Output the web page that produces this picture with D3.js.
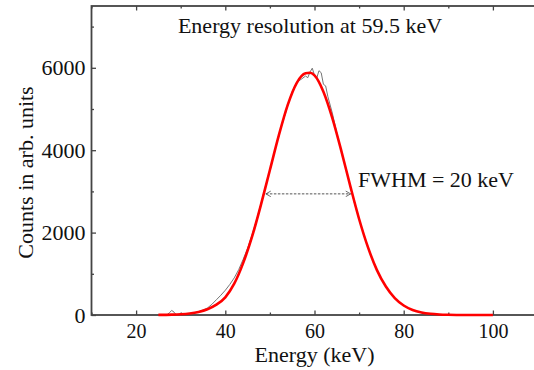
<!DOCTYPE html>
<html>
<head>
<meta charset="utf-8">
<script src="https://cdn.jsdelivr.net/npm/d3@7"></script>
<style>
  html, body { margin: 0; padding: 0; background: #fff; }
  svg text { font-family: "Liberation Serif", "Times New Roman", serif; fill: #111; }
</style>
</head>
<body>
<div id="chart"></div>
<script>
// measured spectrum (gray) : energy in keV, counts
const dataEnergy = [26, 27, 27.5, 28, 28.5, 29, 30, 31, 32, 33, 34, 35, 36, 37, 38, 39, 40, 41, 42, 43, 44, 45,
  46, 47, 48, 49, 50, 51, 52, 53, 54, 55, 56, 57, 58, 58.5, 59, 59.5, 60, 60.5, 61, 61.5, 62, 62.5, 63, 64,
  65, 66, 67, 68, 69, 70, 71, 72, 73, 74, 75, 76, 77, 78, 79, 80, 81, 82, 83, 84, 85, 86];
const dataCounts = [0, 10, 60, 110, 70, 5, 10, 20, 35, 50, 80, 120, 170, 260, 370, 480, 600, 740, 900, 1100, 1350, 1620,
  1950, 2300, 2700, 3120, 3520, 3950, 4380, 4720, 5080, 5420, 5650, 5720, 5800, 5760, 5900, 5990, 5820, 5750, 5930, 5880, 5600, 5560, 5300, 4900,
  4420, 3980, 3560, 3130, 2700, 2330, 1980, 1650, 1350, 1090, 870, 680, 530, 400, 300, 225, 165, 120, 85, 55, 30, 15];

// fitted curve (red)
const fitEnergy = [25, 28, 30, 32, 34, 36, 38, 40, 42, 44, 46, 48, 50, 52, 54, 56, 58, 59, 60, 62, 64, 66, 68, 70,
  72, 74, 76, 78, 80, 82, 84, 86, 88, 90, 94, 100];
const fitCounts = [2, 8, 18, 38, 75, 140, 250, 430, 760, 1260, 1900, 2680, 3520, 4360, 5100, 5630, 5865, 5880, 5815, 5420, 4780, 3990, 3140, 2330,
  1640, 1090, 690, 410, 231, 123, 62, 29, 13, 6, 1, 0];

// FWHM marker (keV) and its height
const fwhmEnds = [49.1, 68.1];
const fwhmLevel = 2940;

const xTicks = [20, 40, 60, 80, 100];
const xMinor = [10, 30, 50, 70, 90, 110];
const yTicks = [0, 2000, 4000, 6000];
const yMinor = [1000, 3000, 5000, 7000];

const titleText = 'Energy resolution at 59.5 keV';
const fwhmText = 'FWHM = 20 keV';
const xTitle = 'Energy (keV)';
const yTitle = 'Counts in arb. units';

const width = 534, height = 370;
const margin = { left: 91.5, top: 6, right: -3.5, bottom: 55 };
const serif = '"Liberation Serif", "Times New Roman", serif';

const svg = d3.select('#chart').append('svg')
  .attr('width', width)
  .attr('height', height);

const x = d3.scaleLinear().domain([10, 110]).range([margin.left, width - margin.right]);
const y = d3.scaleLinear().domain([0, 7500]).range([height - margin.bottom, margin.top]);

const frameColor = '#444';

// frame
svg.append('rect')
  .attr('x', x(10)).attr('y', y(7500))
  .attr('width', x(110) - x(10)).attr('height', y(0) - y(7500))
  .attr('fill', 'none').attr('stroke', frameColor).attr('stroke-width', 1.8);

// axes (ticks point inward)
function styleAxis(g, size) {
  g.attr('font-family', serif).attr('font-size', size || 20);
  g.select('.domain').remove();
  g.selectAll('.tick line').attr('stroke', frameColor).attr('stroke-width', 1.3);
  g.selectAll('.tick text').attr('fill', '#111');
}

svg.append('g').attr('transform', `translate(0,${y(0)})`)
  .call(d3.axisBottom(x).tickValues(xTicks).tickSize(-4.5).tickPadding(9).tickFormat(d3.format('d')))
  .call(styleAxis, 20);
svg.append('g').attr('transform', `translate(0,${y(0)})`)
  .call(d3.axisBottom(x).tickValues(xMinor).tickSize(-2.5).tickFormat(''))
  .call(styleAxis);
svg.append('g').attr('transform', `translate(0,${y(7500)})`)
  .call(d3.axisTop(x).tickValues(xTicks).tickSize(-4.5).tickFormat(''))
  .call(styleAxis);
svg.append('g').attr('transform', `translate(0,${y(7500)})`)
  .call(d3.axisTop(x).tickValues(xMinor).tickSize(-2.5).tickFormat(''))
  .call(styleAxis);

svg.append('g').attr('transform', `translate(${x(10)},0)`)
  .call(d3.axisLeft(y).tickValues(yTicks).tickSize(-4.5).tickPadding(6).tickFormat(d3.format('d')))
  .call(styleAxis, 22);
svg.append('g').attr('transform', `translate(${x(10)},0)`)
  .call(d3.axisLeft(y).tickValues(yMinor).tickSize(-2.5).tickFormat(''))
  .call(styleAxis);

// measured data
svg.append('path')
  .datum(d3.zip(dataEnergy, dataCounts))
  .attr('d', d3.line().x(d => x(d[0])).y(d => y(d[1])))
  .attr('fill', 'none').attr('stroke', '#666').attr('stroke-width', 0.9);

// fit
svg.append('path')
  .datum(d3.zip(fitEnergy, fitCounts))
  .attr('d', d3.line().x(d => x(d[0])).y(d => y(d[1])).curve(d3.curveMonotoneX))
  .attr('fill', 'none').attr('stroke', '#f00').attr('stroke-width', 2.6);

// FWHM arrow
const defs = svg.append('defs');
['start', 'end'].forEach(k => {
  defs.append('marker')
    .attr('id', 'arr-' + k)
    .attr('viewBox', '0 0 10 10')
    .attr('refX', k === 'end' ? 9 : 1).attr('refY', 5)
    .attr('markerWidth', 7).attr('markerHeight', 7)
    .attr('markerUnits', 'userSpaceOnUse')
    .attr('orient', 'auto')
    .append('path')
    .attr('d', k === 'end' ? 'M2,1 L9,5 L2,9' : 'M8,1 L1,5 L8,9')
    .attr('fill', 'none').attr('stroke', '#555').attr('stroke-width', 1.2);
});
svg.append('line')
  .attr('x1', x(fwhmEnds[0])).attr('x2', x(fwhmEnds[1]))
  .attr('y1', y(fwhmLevel)).attr('y2', y(fwhmLevel))
  .attr('stroke', '#555').attr('stroke-width', 1)
  .attr('stroke-dasharray', '2.5,1.5')
  .attr('marker-start', 'url(#arr-start)')
  .attr('marker-end', 'url(#arr-end)');

// texts
svg.append('text')
  .attr('x', 310).attr('y', 33)
  .attr('text-anchor', 'middle')
  .style('font-size', '22px')
  .text(titleText);

svg.append('text')
  .attr('x', 358).attr('y', 187)
  .style('font-size', '22px')
  .text(fwhmText);

svg.append('text')
  .attr('x', 314.5).attr('y', 362)
  .attr('text-anchor', 'middle')
  .style('font-size', '22px')
  .text(xTitle);

svg.append('text')
  .attr('transform', 'translate(33,172.5) rotate(-90)')
  .attr('text-anchor', 'middle')
  .style('font-size', '22px')
  .text(yTitle);
</script>
</body>
</html>
